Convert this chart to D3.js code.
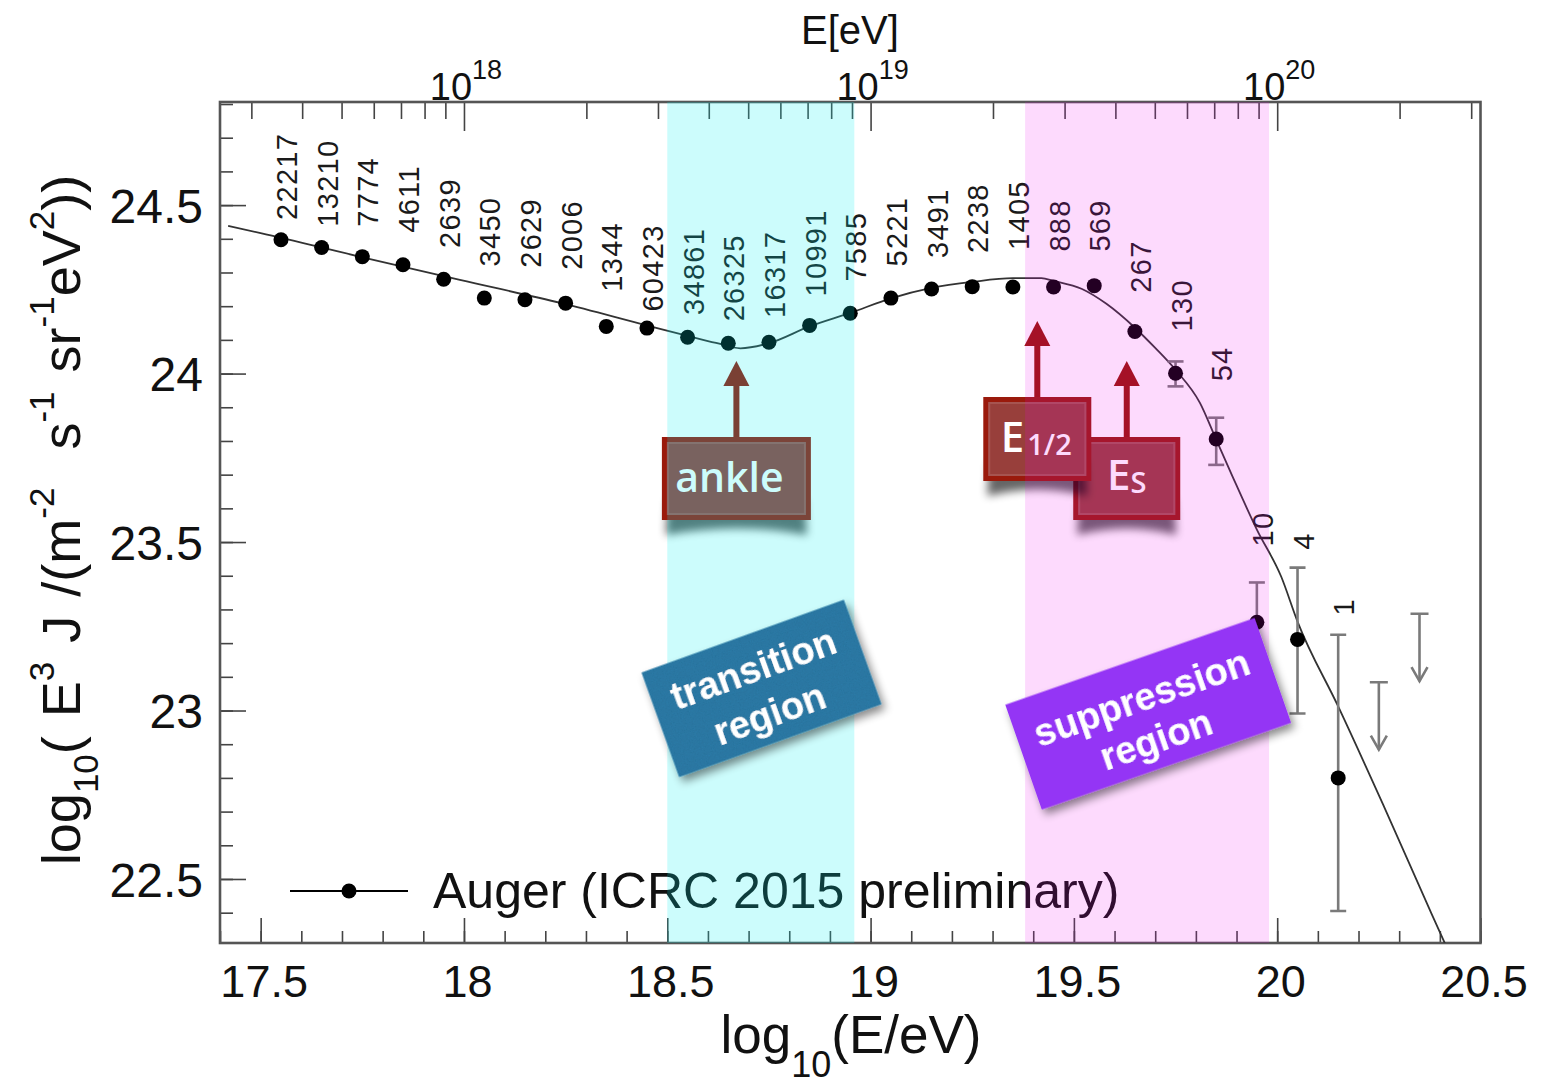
<!DOCTYPE html>
<html>
<head>
<meta charset="utf-8">
<script src="https://cdn.jsdelivr.net/npm/d3@7"></script>
<style>
  html, body { margin: 0; padding: 0; background: #fff; }
  svg { display: block; }
</style>
</head>
<body>
<svg id="chart" width="1544" height="1087"></svg>
<script>
// ---- spectrum data: log10(E/eV) bin centres and log10(E^3 J) ----
const logE = [17.55, 17.65, 17.75, 17.85, 17.95, 18.05, 18.15, 18.25, 18.35, 18.45,
              18.55, 18.65, 18.75, 18.85, 18.95, 19.05, 19.15, 19.25, 19.35, 19.45,
              19.55, 19.65, 19.75, 19.85, 19.95, 20.05, 20.15];
const fluxE3J = [24.397, 24.374, 24.347, 24.323, 24.280, 24.224, 24.219, 24.209, 24.140, 24.135,
                 24.108, 24.090, 24.093, 24.143, 24.179, 24.224, 24.251, 24.258, 24.257, 24.257,
                 24.261, 24.125, 24.001, 23.806, 23.262, 23.211, 22.800];
// number of events in each bin, and the level where each count label starts
const eventCounts = ["22217", "13210", "7774", "4611", "2639", "3450", "2629", "2006", "1344", "60423",
                     "34861", "26325", "16317", "10991", "7585", "5221", "3491", "2238", "1405", "888",
                     "569", "267", "130", "54", "10", "4", "1"];
const countLabelLevel = [24.456, 24.436, 24.436, 24.418, 24.373, 24.318, 24.314, 24.308, 24.243, 24.184,
                         24.174, 24.155, 24.165, 24.229, 24.273, 24.318, 24.343, 24.358, 24.367, 24.362,
                         24.362, 24.240, 24.125, 23.977, 23.487, 23.477, 23.282];
// statistical uncertainties on the highest-energy bins
const errLogE = [19.75, 19.85, 19.95, 20.05, 20.15];
const errHigh = [24.036, 23.869, 23.380, 23.424, 23.225];
const errLow  = [23.962, 23.729, 23.130, 22.991, 22.405];
// upper limits (no events)
const limitLogE = [20.25, 20.35];
const limitValue = [23.084, 23.287];
const limitArrowEnd = [22.884, 23.087];
// fitted spectrum (broken power law with suppression)
const fitLogE = [17.42, 17.50, 17.74, 17.99, 18.24, 18.45, 18.55, 18.62, 18.68, 18.75,
                 18.85, 18.95, 19.05, 19.15, 19.25, 19.35, 19.42, 19.45, 19.52, 19.58,
                 19.65, 19.70, 19.75, 19.81, 19.85, 19.89, 19.95, 20.01, 20.05, 20.15,
                 20.26, 20.38, 20.43];
const fitValue = [24.438, 24.417, 24.348, 24.278, 24.209, 24.143, 24.112, 24.091, 24.075, 24.090,
                  24.140, 24.180, 24.223, 24.254, 24.272, 24.283, 24.283, 24.275, 24.251, 24.207,
                  24.136, 24.076, 24.011, 23.913, 23.804, 23.695, 23.537, 23.397, 23.264, 23.012,
                  22.722, 22.396, 22.262];
// axis ticks
const xTickLabels = [17.5, 18, 18.5, 19, 19.5, 20, 20.5];
const yTickLabels = [22.5, 23, 23.5, 24, 24.5];
const topDecades = [18, 19, 20];
// shaded energy ranges
const transitionRange = [18.5, 18.96];
const suppressionRange = [19.38, 19.98];
// marked features
const ankleLogE = 18.67;
const eHalfLogE = 19.41;
const eSLogE = 19.63;
const legendLabel = "Auger (ICRC 2015 preliminary)";

// ---- layout ----
const plot = { left: 220, right: 1480.5, top: 102, bottom: 943 };
const x = d3.scaleLinear().domain([17.4, 20.5]).range([plot.left, plot.right]);
const xE = d3.scaleLog().domain([Math.pow(10, 17.4), Math.pow(10, 20.5)]).range([plot.left, plot.right]);
const y = d3.scaleLinear().domain([22.31, 24.806]).range([plot.bottom, plot.top]);

const axisFont = "'Liberation Sans', Arial, Helvetica, sans-serif";
const boxFont = "'Open Sans', 'Noto Sans', sans-serif";
const ink = "#111";

const svg = d3.select("#chart");
const defs = svg.append("defs");

defs.append("clipPath").attr("id", "plotClip")
  .append("rect")
  .attr("x", plot.left).attr("y", plot.top)
  .attr("width", plot.right - plot.left).attr("height", plot.bottom - plot.top);

const curl = defs.append("filter").attr("id", "curlBlur")
  .attr("x", "-20%").attr("y", "-50%").attr("width", "140%").attr("height", "200%");
curl.append("feGaussianBlur").attr("stdDeviation", 4);

const drop = defs.append("filter").attr("id", "dropShadow")
  .attr("x", "-20%").attr("y", "-30%").attr("width", "140%").attr("height", "170%");
drop.append("feDropShadow").attr("dx", 2).attr("dy", 6).attr("stdDeviation", 4)
  .attr("flood-color", "#000").attr("flood-opacity", 0.45);

const grain = defs.append("filter").attr("id", "grain");
grain.append("feTurbulence").attr("type", "fractalNoise").attr("baseFrequency", 0.9)
  .attr("numOctaves", 2).attr("seed", 3).attr("result", "noise");
grain.append("feColorMatrix").attr("in", "noise").attr("type", "matrix")
  .attr("values", "0 0 0 0 0  0 0 0 0 0  0 0 0 0 0  0 0 0 0.22 0").attr("result", "speck");
grain.append("feComposite").attr("in", "speck").attr("in2", "SourceGraphic")
  .attr("operator", "in").attr("result", "speckIn");
const gm = grain.append("feMerge");
gm.append("feMergeNode").attr("in", "SourceGraphic");
gm.append("feMergeNode").attr("in", "speckIn");

// ---- axes ----
function styleAxis(g) {
  g.select(".domain").remove();
  g.selectAll(".tick line").attr("stroke", "#444").attr("stroke-width", 1.6);
  g.selectAll(".tick text").attr("fill", ink).style("font-family", axisFont);
}

const xMinor = d3.range(174, 206).map(d => d / 10);
svg.append("g").attr("transform", `translate(0,${plot.bottom})`)
  .call(d3.axisBottom(x).tickValues(xMinor).tickSize(-12).tickFormat(""))
  .call(styleAxis);
svg.append("g").attr("transform", `translate(0,${plot.bottom})`)
  .call(d3.axisBottom(x).tickValues(xTickLabels).tickSize(-25).tickPadding(22).tickFormat(d => String(d)))
  .call(styleAxis)
  .call(g => g.selectAll(".tick text").style("font-size", "45px").attr("dx", 3));

const yMinor = d3.range(224, 249).map(d => d / 10);
svg.append("g").attr("transform", `translate(${plot.left},0)`)
  .call(d3.axisLeft(y).tickValues(yMinor).tickSize(-13).tickFormat(""))
  .call(styleAxis);
svg.append("g").attr("transform", `translate(${plot.left},0)`)
  .call(d3.axisLeft(y).tickValues(yTickLabels).tickSize(-26).tickPadding(17).tickFormat(d => String(d)))
  .call(styleAxis)
  .call(g => g.selectAll(".tick text").style("font-size", "48px").attr("dy", "0.36em"));

const topMinor = [];
for (let e = 17; e <= 20; e++) {
  for (let k = 2; k <= 9; k++) {
    const v = k * Math.pow(10, e);
    if (v > xE.domain()[0] && v < xE.domain()[1]) topMinor.push(v);
  }
}
svg.append("g").attr("transform", `translate(0,${plot.top})`)
  .call(d3.axisTop(xE).tickValues(topMinor).tickSize(-17).tickFormat(""))
  .call(styleAxis);
svg.append("g").attr("transform", `translate(0,${plot.top})`)
  .call(d3.axisTop(xE).tickValues(topDecades.map(e => Math.pow(10, e))).tickSize(-29).tickFormat(""))
  .call(styleAxis);

// decade labels on the energy axis
const topLabels = svg.append("g").style("font-family", axisFont).attr("fill", ink);
topDecades.forEach(e => {
  const t = topLabels.append("text")
    .attr("x", xE(Math.pow(10, e)) + 2).attr("y", 100)
    .attr("text-anchor", "middle").style("font-size", "38px");
  t.append("tspan").text("10");
  t.append("tspan").attr("dy", -21).style("font-size", "27px").text(String(e));
});

// axis titles
svg.append("text").attr("x", 850).attr("y", 44).attr("text-anchor", "middle")
  .style("font-family", axisFont).style("font-size", "40px").attr("fill", ink).text("E[eV]");

const xTitle = svg.append("text").attr("x", 851).attr("y", 1053).attr("text-anchor", "middle")
  .style("font-family", axisFont).style("font-size", "53px").attr("fill", ink);
xTitle.append("tspan").text("log");
xTitle.append("tspan").attr("dy", 24).style("font-size", "36px").text("10");
xTitle.append("tspan").attr("dy", -24).text("(E/eV)");

const yTitle = svg.append("text").attr("transform", "translate(80,520) rotate(-90)")
  .attr("text-anchor", "middle").style("white-space", "pre").style("word-spacing", "4px")
  .style("font-family", axisFont).style("font-size", "54px").attr("fill", ink);
const yParts = [["log", 0], ["10", 1], ["( E", 0], ["3", -1], [" J /(m", 0], ["-2", -1],
                ["  s", 0], ["-1", -1], [" sr", 0], ["-1", -1], ["eV", 0], ["2", -1], ["))", 0]];
let shift = 0;
yParts.forEach(([txt, kind]) => {
  const target = kind === 1 ? 18 : (kind === -1 ? -26 : 0);
  const ts = yTitle.append("tspan").attr("dy", target - shift).text(txt);
  if (kind !== 0) ts.style("font-size", "35px");
  shift = target;
});

// ---- frame ----
svg.append("rect")
  .attr("x", plot.left).attr("y", plot.top)
  .attr("width", plot.right - plot.left).attr("height", plot.bottom - plot.top)
  .attr("fill", "none").attr("stroke", "#555").attr("stroke-width", 2.6);

// ---- fit, error bars, limits, points ----
const plotLayer = svg.append("g").attr("clip-path", "url(#plotClip)");

plotLayer.append("path")
  .datum(fitLogE.map((v, i) => [v, fitValue[i]]))
  .attr("fill", "none").attr("stroke", "#333").attr("stroke-width", 1.8)
  .attr("d", d3.line().x(d => x(d[0])).y(d => y(d[1])).curve(d3.curveMonotoneX));

const errG = plotLayer.append("g").attr("stroke", "#7a7a7a").attr("stroke-width", 2.6);
errLogE.forEach((v, i) => {
  const cx = x(v);
  errG.append("line").attr("x1", cx).attr("x2", cx).attr("y1", y(errHigh[i])).attr("y2", y(errLow[i]));
  errG.append("line").attr("x1", cx - 8).attr("x2", cx + 8).attr("y1", y(errHigh[i])).attr("y2", y(errHigh[i]));
  errG.append("line").attr("x1", cx - 8).attr("x2", cx + 8).attr("y1", y(errLow[i])).attr("y2", y(errLow[i]));
});

const limG = plotLayer.append("g").attr("stroke", "#7a7a7a").attr("stroke-width", 2.6).attr("fill", "none");
limitLogE.forEach((v, i) => {
  const cx = x(v), y0 = y(limitValue[i]), y1 = y(limitArrowEnd[i]);
  limG.append("line").attr("x1", cx).attr("x2", cx).attr("y1", y0).attr("y2", y1);
  limG.append("line").attr("x1", cx - 9).attr("x2", cx + 9).attr("y1", y0).attr("y2", y0);
  limG.append("polyline").attr("points", `${cx - 8},${y1 - 14} ${cx},${y1} ${cx + 8},${y1 - 14}`);
});

plotLayer.append("g").selectAll("circle")
  .data(logE)
  .join("circle")
  .attr("cx", d => x(d))
  .attr("cy", (d, i) => y(fluxE3J[i]))
  .attr("r", 7.5)
  .attr("fill", "#000");

// event counts above each bin
svg.append("g").attr("fill", "#1a1a1a").style("font-family", axisFont)
  .selectAll("text")
  .data(eventCounts)
  .join("text")
  .attr("transform", (d, i) => `translate(${x(logE[i]) + 16},${y(countLabelLevel[i])}) rotate(-90)`)
  .style("font-size", "29px").style("letter-spacing", "1.3px")
  .text(d => d);

// ---- legend ----
const legend = svg.append("g");
legend.append("line").attr("x1", 290).attr("x2", 408).attr("y1", 891).attr("y2", 891)
  .attr("stroke", "#000").attr("stroke-width", 2);
legend.append("circle").attr("cx", 349).attr("cy", 891).attr("r", 7.5).attr("fill", "#000");
legend.append("text").attr("x", 433).attr("y", 908)
  .style("font-family", axisFont).style("font-size", "50px").attr("fill", ink)
  .text(legendLabel);

// ---- feature markers (arrows with labelled boxes) ----
const markerColor = "#991405";
function featureMarker(cx, boxTop, w, h, drawLabel) {
  const g = svg.append("g");
  const tip = boxTop - 76;
  // arrow
  g.append("rect").attr("x", cx - 3).attr("y", tip + 22).attr("width", 6).attr("height", boxTop - tip - 20)
    .attr("fill", markerColor);
  g.append("path").attr("d", `M${cx},${tip} L${cx + 13},${tip + 25} L${cx - 13},${tip + 25} Z`)
    .attr("fill", markerColor);
  const xl = cx - w / 2, xr = cx + w / 2, yb = boxTop + h;
  // curled-corner shadow under the box
  g.append("path")
    .attr("d", `M${xl + 6},${yb - 20} L${xl + 4},${yb + 15} Q${cx},${yb + 2} ${xr - 4},${yb + 15} L${xr - 6},${yb - 20} Z`)
    .attr("fill", "#000").attr("opacity", 0.6).attr("filter", "url(#curlBlur)");
  g.append("rect").attr("x", xl + 2.5).attr("y", boxTop + 2.5).attr("width", w - 5).attr("height", h - 5)
    .attr("fill", "#983f3b").attr("stroke", "#9a1a0c").attr("stroke-width", 5);
  g.append("rect").attr("x", xl + 6).attr("y", boxTop + 6).attr("width", w - 12).attr("height", h - 12)
    .attr("fill", "none").attr("stroke", "#a65450").attr("stroke-width", 2);
  drawLabel(g.append("text").attr("fill", "#fff").style("font-family", boxFont).style("font-weight", 600));
  return g;
}

featureMarker(x(ankleLogE), 437, 149, 83, t => {
  t.attr("x", x(ankleLogE) - 7).attr("y", 492).attr("text-anchor", "middle")
    .style("font-size", "41px").text("ankle");
});
featureMarker(x(eSLogE), 437, 107, 83, t => {
  t.attr("x", x(eSLogE)).attr("y", 490).attr("text-anchor", "middle").style("font-size", "42px");
  t.append("tspan").text("E");
  t.append("tspan").attr("dy", 3).style("font-size", "29px").text("S");
});
featureMarker(x(eHalfLogE), 397, 108, 84, t => {
  t.attr("x", x(eHalfLogE) - 1).attr("y", 452).attr("text-anchor", "middle").style("font-size", "42px");
  t.append("tspan").text("E");
  t.append("tspan").attr("dy", 3).attr("dx", 3).style("font-size", "29px").text("1/2");
});

// ---- shaded energy ranges (translucent, over the data) ----
svg.append("rect")
  .attr("x", x(transitionRange[0])).attr("y", plot.top)
  .attr("width", x(transitionRange[1]) - x(transitionRange[0])).attr("height", plot.bottom - plot.top)
  .attr("fill", "rgb(0,240,240)").attr("opacity", 0.2);
svg.append("rect")
  .attr("x", x(suppressionRange[0])).attr("y", plot.top)
  .attr("width", x(suppressionRange[1]) - x(suppressionRange[0])).attr("height", plot.bottom - plot.top)
  .attr("fill", "rgb(241,0,241)").attr("opacity", 0.145);

// ---- tilted region labels ----
function regionTag(cx, cy, angle, w, h, fill, lines, textured) {
  const g = svg.append("g").attr("transform", `translate(${cx},${cy}) rotate(${angle})`)
    .attr("filter", "url(#dropShadow)");
  const r = g.append("rect").attr("x", -w / 2).attr("y", -h / 2).attr("width", w).attr("height", h)
    .attr("fill", fill);
  if (textured) r.attr("filter", "url(#grain)");
  lines.forEach(([txt, base]) => {
    g.append("text").attr("x", -1).attr("y", base).attr("text-anchor", "middle")
      .attr("fill", "#fff").style("font-family", axisFont).style("font-weight", 700)
      .style("font-size", "38px").text(txt);
  });
}
regionTag(761.5, 688.4, -19.8, 215, 111, "#2e7eab", [["transition", -8], ["region", 40]], true);
regionTag(1148.2, 713.8, -19.2, 264, 111, "#9434f5", [["suppression", -4], ["region", 40]], false);
</script>
</body>
</html>
